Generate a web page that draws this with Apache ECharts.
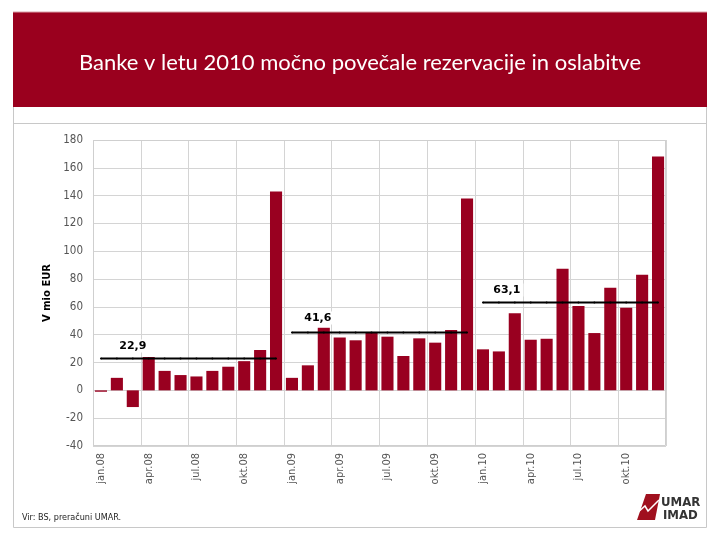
<!DOCTYPE html>
<html>
<head>
<meta charset="utf-8">
<script src="https://cdn.jsdelivr.net/npm/echarts@6/dist/echarts.min.js"></script>
<style>html,body{margin:0;padding:0;background:#fff}#c{width:720px;height:540px}</style>
</head>
<body>
<div id="c"></div>
<script>
var categories = ['jan.08','feb.08','mar.08','apr.08','maj.08','jun.08','jul.08','avg.08','sep.08','okt.08','nov.08','dec.08',
 'jan.09','feb.09','mar.09','apr.09','maj.09','jun.09','jul.09','avg.09','sep.09','okt.09','nov.09','dec.09',
 'jan.10','feb.10','mar.10','apr.10','maj.10','jun.10','jul.10','avg.10','sep.10','okt.10','nov.10','dec.10'];
var values = [-1,9,-12,24,14,11,10,14,17,21,29,143,
 9,18,45,38,36,42,38.6,24.7,37.4,34.3,43.4,138,
 29.5,28,55.4,36.4,37.1,87.5,60.6,41.2,73.8,59.4,83.2,168.2];
var averages = [22.9, 41.6, 63.1];
var averageLabels = ['22,9', '41,6', '63,1'];
var averageLabelIndex = [2, 2, 1];
var labelShift = [[1, -5], [-5, -7], [9, -5]];
var yTicks = {min: -40, max: 180, interval: 20};

function avgSeries(k) {
  var d = [];
  for (var i = 0; i < categories.length; i++) {
    if (Math.floor(i / 12) === k) {
      var item = {value: averages[k]};
      if (i % 12 === averageLabelIndex[k]) {
        item.label = {show: true, formatter: averageLabels[k], position: labelShift[k],
          align: 'center', verticalAlign: 'bottom',
          fontFamily: 'DejaVu Sans', fontWeight: 'bold', fontSize: 11, color: '#000',
          backgroundColor: '#fff', padding: [1, 3]};
      }
      d.push(item);
    } else d.push(null);
  }
  return {type: 'line', data: d, symbol: 'circle', symbolSize: 2, showSymbol: true, showAllSymbol: true,
    connectNulls: false, silent: true, labelLayout: {hideOverlap: false},
    lineStyle: {color: '#000', width: 2}, itemStyle: {color: '#000'}, z: 5, label: {show: false}};
}

var chart = echarts.init(document.getElementById('c'), null, {renderer: 'canvas'});
chart.setOption({
  animation: false,
  backgroundColor: '#fff',
  grid: {left: 93, right: 54, top: 140, bottom: 94, show: false},
  xAxis: {
    type: 'category', data: categories,
    axisLine: {show: false},
    axisTick: {show: false, interval: 2},
    axisLabel: {interval: 2, rotate: 90, color: '#555', fontSize: 11, fontFamily: 'DejaVu Sans Condensed, DejaVu Sans', margin: 7},
    splitLine: {show: true, interval: 2, lineStyle: {color: '#d4d4d4', width: 1}}
  },
  yAxis: {
    type: 'value', min: yTicks.min, max: yTicks.max, interval: yTicks.interval,
    name: 'V mio EUR', nameLocation: 'middle', nameGap: 40, nameRotate: 90,
    nameTextStyle: {fontFamily: 'DejaVu Sans', fontWeight: 'bold', fontSize: 10, color: '#000'},
    axisLine: {show: false}, axisTick: {show: false},
    axisLabel: {color: '#555', fontSize: 11.5, fontFamily: 'DejaVu Sans Condensed, DejaVu Sans', margin: 10},
    splitLine: {show: true, lineStyle: {color: '#d4d4d4', width: 1}}
  },
  series: [
    {type: 'bar', data: values, barCategoryGap: '24%', itemStyle: {color: '#990020'}, z: 3, silent: true},
    avgSeries(0), avgSeries(1), avgSeries(2)
  ],
  graphic: [
    {type: 'rect', shape: {x: 13, y: 12, width: 694, height: 95}, style: {fill: '#9a001e'}, z: -1},
    {type: 'line', shape: {x1: 13, y1: 12, x2: 707, y2: 12}, style: {stroke: '#d9a0a8', lineWidth: 1}},
    {type: 'text', x: 360, y: 63, style: {text: 'Banke v letu 2010 močno povečale rezervacije in oslabitve',
      fill: '#fff', font: '22px Lato', textAlign: 'center', textVerticalAlign: 'middle'}},
    {type: 'polyline', shape: {points: [[13.5, 107], [13.5, 527.5], [706.5, 527.5], [706.5, 107]]}, style: {stroke: '#c8c8c8', fill: null, lineWidth: 1}},
    {type: 'line', shape: {x1: 13, y1: 123.5, x2: 707, y2: 123.5}, style: {stroke: '#c8c8c8', lineWidth: 1}},
    {type: 'rect', shape: {x: 93.5, y: 140.5, width: 572, height: 305}, style: {stroke: '#cfcfcf', fill: null, lineWidth: 1}, z: 1},
    {type: 'text', x: 22, y: 518, style: {text: 'Vir: BS, preračuni UMAR.', fill: '#222', font: '9px "DejaVu Sans Condensed"', textVerticalAlign: 'middle'}},
    {type: 'polygon', shape: {points: [[646, 494], [660, 494], [655, 520], [637, 520]]}, style: {fill: '#a0101e'}},
    {type: 'polyline', shape: {points: [[636, 514], [645, 506], [648, 511], [659, 500]]}, style: {stroke: '#fff', lineWidth: 1.5, fill: null}},
    {type: 'text', x: 661, y: 496, style: {text: 'UMAR', fill: '#333', font: 'bold 13px "Liberation Sans Narrow", "DejaVu Sans Condensed"'}},
    {type: 'text', x: 663, y: 509, style: {text: 'IMAD', fill: '#333', font: 'bold 13px "Liberation Sans Narrow", "DejaVu Sans Condensed"'}}
  ]
});
</script>
</body>
</html>
